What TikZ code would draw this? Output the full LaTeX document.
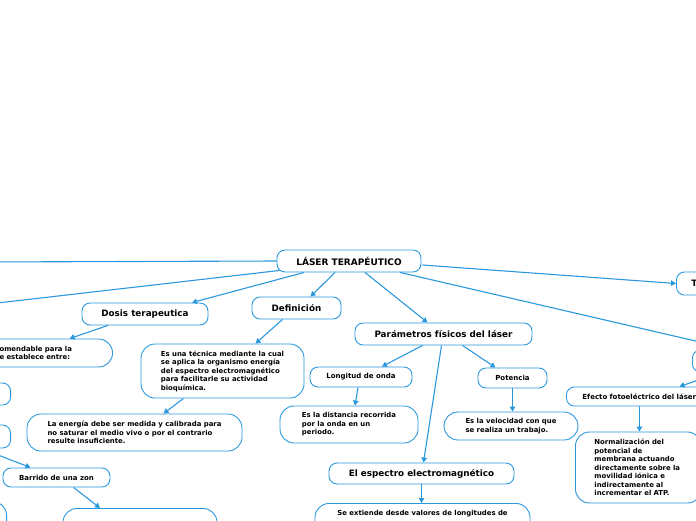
\documentclass[tikz,border=0pt]{standalone}
\usepackage{fontspec}
\setmainfont{DejaVu Sans}
\usetikzlibrary{calc,arrows.meta}
\definecolor{mapblue}{RGB}{43,152,222}

\begin{document}
\begin{tikzpicture}[x=1pt,y=-1pt,
  box/.style={draw=mapblue,line width=0.9pt,fill=white,rounded corners=8pt,inner sep=0pt,font=\bfseries},
  main/.style={box,font=\fontsize{9}{11}\selectfont\bfseries},
  head/.style={box,font=\fontsize{8.8}{10}\selectfont\bfseries},
  small/.style={box,font=\fontsize{7}{8}\selectfont\bfseries},
  txt/.style={box,rounded corners=14pt,align=left,font=\fontsize{6.9}{8.5}\selectfont\bfseries},
  link/.style={draw=mapblue,line width=1.1pt,-{Triangle[length=5pt,width=5.5pt]}}]
\useasboundingbox (0,0) rectangle (696,520);
\clip (0,0) rectangle (696,520);

\coordinate (lft1) at (-20,262);
\coordinate (lft2) at (-20,305);

\node[main,minimum width=144,minimum height=22] (root) at (349,261) {LÁSER TERAPÉUTICO};
\node[head,minimum width=126,minimum height=22] (dosis) at (145,314) {Dosis terapeutica};
\node[head,minimum width=89,minimum height=22] (def) at (296.5,308) {Definición};
\node[head,minimum width=177,minimum height=22] (param) at (443.5,334) {Parámetros físicos del láser};
\node[small,minimum width=102,minimum height=20] (onda) at (361,377) {Longitud de onda};
\node[small,minimum width=69,minimum height=20] (pot) at (512.5,378) {Potencia};
\node[head,minimum width=185,minimum height=21] (espectro) at (421.5,473.5) {El espectro electromagnético};
\node[small,minimum width=107,minimum height=19] (barrido) at (56.5,477.5) {Barrido de una zon};

\node[txt,minimum width=163,minimum height=54] (tecnica) at (222.5,371)
  {Es una técnica mediante la cual\\se aplica la organismo energía\\del espectro electromagnético\\para facilitarle su actividad\\bioquímica.};
\node[txt,minimum width=215,minimum height=37] (energia) at (134.5,432.5)
  {La energía debe ser medida y calibrada para\\no saturar el medio vivo o por el contrario\\resulte insuficiente.};
\node[txt,minimum width=138,minimum height=37] (dist) at (349,424.5)
  {Es la distancia recorrida\\por la onda en un\\periodo.};
\node[txt,minimum width=134,minimum height=28] (vel) at (511,426)
  {Es la velocidad con que\\se realiza un trabajo.};
\node[txt,minimum width=215,inner ysep=7,text depth=30,anchor=north] (extiende) at (422.5,503)
  {Se extiende desde valores de longitudes de};
\node[txt,inner xsep=33,text width=80,minimum height=28,anchor=east] (omend) at (113,353)
  {omendable para la\\e establece entre:};
\node[small,align=left,inner xsep=16,text width=150,minimum height=19,anchor=west] (efecto) at (566,396.5)
  {Efecto fotoeléctrico del láser};
\node[txt,inner xsep=19,text width=88,minimum height=71,anchor=west] (norm) at (575,467.5)
  {Normalización del\\potencial de\\membrana actuando\\directamente sobre la\\movilidad iónica e\\indirectamente al\\incrementar el ATP.};
\node[head,align=left,inner xsep=15,text width=40,minimum height=23,anchor=west] (tbox) at (676,283.5) {T};
\node[head,minimum width=80,minimum height=22,anchor=west] (rt) at (692,361) {};

\node[box,minimum width=80,minimum height=22,anchor=east] (lbox1) at (11,394) {};
\node[box,minimum width=80,minimum height=23,anchor=east] (lbox2) at (11,436.5) {};
\node[box,rounded corners=14pt,minimum width=80,minimum height=40,anchor=north east] (lbox3) at (7,501) {};
\node[box,rounded corners=14pt,minimum width=154,minimum height=40,anchor=north] (bbox) at (140,508) {};

\draw[link] (root.west) -- (lft1);
\draw[link] ($(root.south west)+(3,-2)$) -- (lft2);
\draw[link] ($(root.south)+(-45,0)$) -- ($(dosis.north)+(47,0)$);
\draw[link] ($(root.south)+(-14,0)$) -- ($(def.north)+(14,0)$);
\draw[link] ($(root.south)+(16,0)$) -- ($(param.north)+(-16,0)$);
\draw[link] ($(root.east)+(1,4)$) -- (tbox.west);
\draw[link] ($(root.south)+(51,0)$) -- (rt.north);
\draw[link] ($(rt.south)+(-12,0)$) -- ($(efecto.north)+(22,0)$);
\draw[link] ($(efecto.south)+(-18,0)$) -- ($(norm.north)+(1,0)$);
\draw[link] ($(dosis.south)+(-37,0)$) -- ($(omend.north)+(30,0)$);
\draw[link] ($(def.south)+(-14,0)$) -- ($(tecnica.north)+(33,0)$);
\draw[link] ($(tecnica.south)+(-39,0)$) -- ($(energia.north)+(29,0)$);
\draw[link] ($(param.south)+(-21,0)$) -- ($(onda.north)+(21,0)$);
\draw[link] ($(param.south)+(19,0)$) -- ($(pot.north)+(-17,0)$);
\draw[link] ($(param.south)+(-2,0)$) -- ($(espectro.north)+(2,0)$);
\draw[link] ($(onda.south)+(-3,0)$) -- ($(dist.north)+(6,0)$);
\draw[link] (pot.south) -- (pot.south |- vel.north);
\draw[link] (espectro.south) -- (espectro.south |- extiende.north);
\draw[link] ($(lbox2.south east)+(-30,0)$) -- ($(barrido.north)+(-26,0)$);
\draw[link] ($(barrido.south)+(17,0)$) -- ($(bbox.north)+(-40,0)$);
\end{tikzpicture}
\end{document}
